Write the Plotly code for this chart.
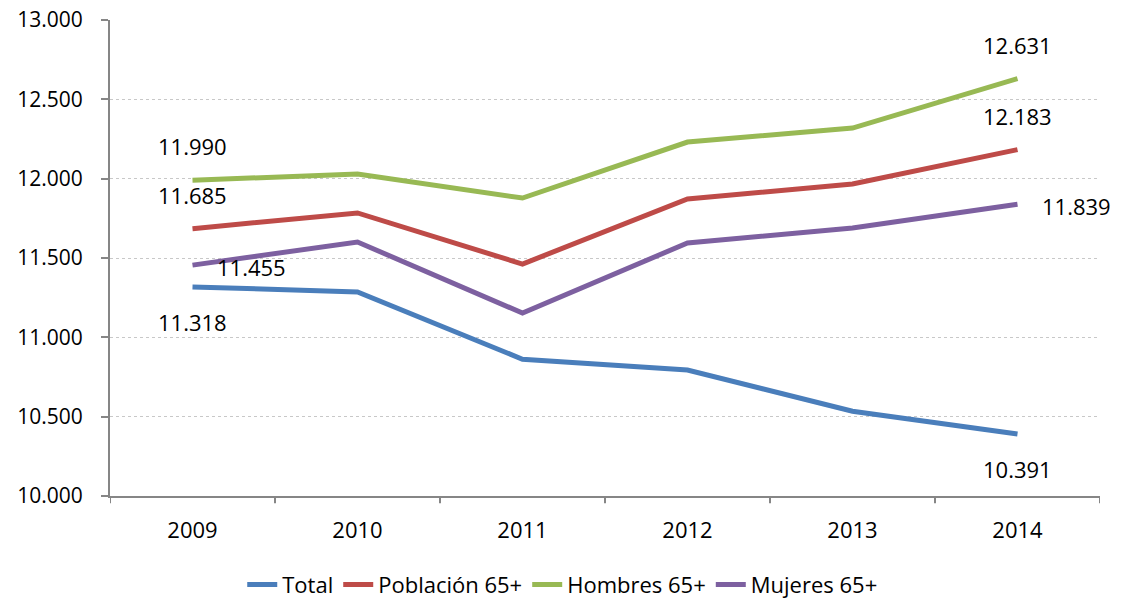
import plotly.graph_objects as go

years = ["2009", "2010", "2011", "2012", "2013", "2014"]
total = [11318, 11286, 10862, 10794, 10534, 10391]
poblacion_65 = [11685, 11784, 11462, 11872, 11966, 12183]
hombres_65 = [11990, 12029, 11878, 12231, 12319, 12631]
mujeres_65 = [11455, 11601, 11153, 11595, 11689, 11839]

# name, values, colour, label placement for first/last point
series = [
    ("Total", total, "#4A7EBB", "below"),
    ("Población 65+", poblacion_65, "#BE4B48", "above"),
    ("Hombres 65+", hombres_65, "#98B954", "above"),
    ("Mujeres 65+", mujeres_65, "#7D60A0", "right"),
]

FONT = "'Open Sans', Lato, sans-serif"


def fmt(v):
    return f"{v:,}".replace(",", ".")


fig = go.Figure()
x_idx = list(range(len(years)))
annotations = []
for name, vals, color, place in series:
    fig.add_trace(go.Scatter(
        x=x_idx, y=vals, name=name, mode="lines",
        line=dict(color=color, width=5),
        cliponaxis=False,
    ))
    for i in (0, len(vals) - 1):
        ann = dict(x=x_idx[i], y=vals[i], xref="x", yref="y", text=fmt(vals[i]),
                   showarrow=False, font=dict(family=FONT, size=22, color="#000000"))
        if place == "above":
            ann.update(yshift=34, xanchor="center", yanchor="middle")
        elif place == "below":
            ann.update(yshift=-35, xanchor="center", yanchor="middle")
        else:
            ann.update(xshift=22, yshift=-2, xanchor="left", yanchor="middle")
        annotations.append(ann)

fig.update_layout(
    width=1121, height=599,
    margin=dict(l=110, r=21, t=20, b=103, autoexpand=False),
    paper_bgcolor="white", plot_bgcolor="white",
    separators=",.",
    font=dict(family=FONT, size=20, color="#000000"),
    showlegend=True,
    legend=dict(orientation="h", x=0.502, xanchor="center", xref="container",
                y=0.024, yanchor="middle", yref="container",
                font=dict(family=FONT, size=22), traceorder="normal",
                itemwidth=30),
    annotations=annotations,
    xaxis=dict(
        range=[-0.5, 5.5], tickmode="array", tickvals=x_idx, ticktext=years,
        showgrid=False, zeroline=False, showline=True, linecolor="#868686", linewidth=2,
        ticks="", ticklabelstandoff=14, tickfont=dict(family=FONT, size=22),
    ),
    yaxis=dict(
        range=[10000, 13000], dtick=500, tickformat=",.0f",
        showgrid=True, gridcolor="#C8C8C8", griddash="dot", gridwidth=1,
        zeroline=False, showline=True, linecolor="#868686", linewidth=2,
        ticks="outside", ticklen=7, tickcolor="#868686", tickwidth=2,
        ticklabelstandoff=14,
        tickfont=dict(family=FONT, size=21),
    ),
)

# category boundary ticks along the x axis
for b in [i - 0.5 for i in range(len(years) + 1)]:
    fig.add_shape(type="line", xref="x", yref="paper", x0=b, x1=b, y0=0, y1=-0.015,
                  line=dict(color="#868686", width=2))

fig.write_html("out.html")
